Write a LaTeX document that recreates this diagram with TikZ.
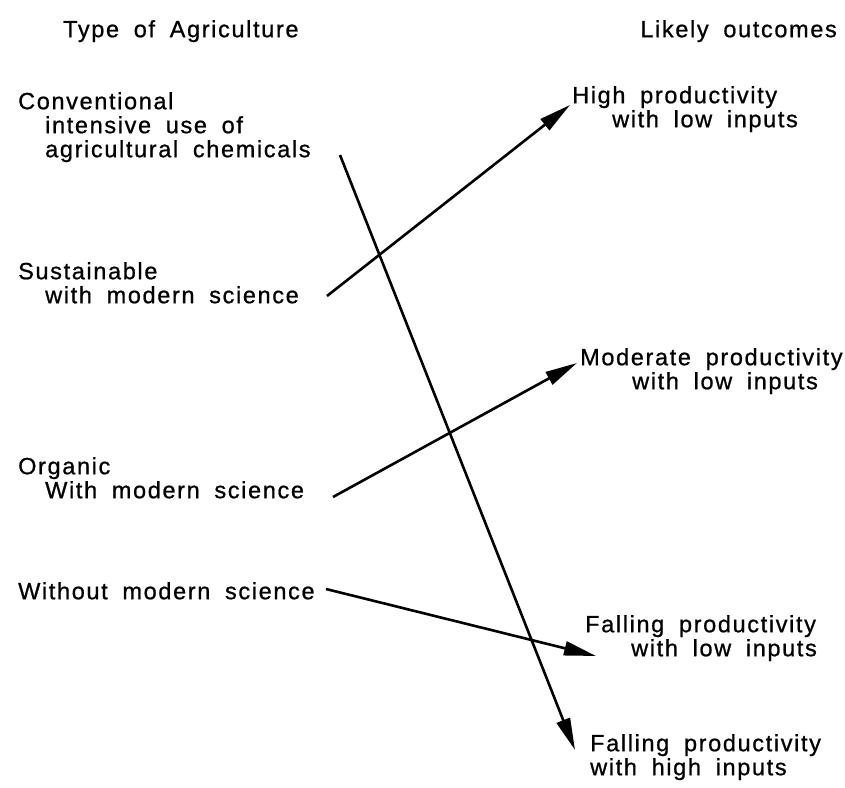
\documentclass[tikz,border=0pt]{standalone}
\usepackage{fontspec}
\setmainfont[LetterSpace=7,WordSpace=1.8,FakeBold=0.8]{Liberation Sans}
\usetikzlibrary{arrows.meta}
\tikzset{font=\fontsize{23.5}{24}\selectfont}
\tikzset{lbl/.style={anchor=north west, inner sep=0pt, align=left}}
\tikzset{arr/.style={line width=2.6pt, -{Triangle[length=32pt,width=14pt]}}}

\begin{document}
\begin{tikzpicture}[x=1pt,y=-1pt]
  \useasboundingbox (0,0) rectangle (845,787);

  % column heads
  \node[lbl] (typehead) at (63,20) {Type of Agriculture};
  \node[lbl,anchor=north east] (outhead) at (837,20) {Likely outcomes};

  % types of agriculture
  \node[lbl] (conv) at (18,92) {Conventional\\\hspace*{27pt}intensive use of\\\hspace*{27pt}agricultural chemicals};
  \node[lbl] (sust) at (18,262) {Sustainable\\\hspace*{27pt}with modern science};
  \node[lbl] (org) at (18,457) {Organic\\\hspace*{27pt}With modern science};
  \node[lbl] (without) at (18,582) {Without modern science};

  % outcomes
  \node[lbl] (highlow) at (572,86) {High productivity\\\hspace*{40pt}with low inputs};
  \node[lbl] (modlow) at (580,348) {Moderate productivity\\\hspace*{52pt}with low inputs};
  \node[lbl] (falllow) at (585,615) {Falling productivity\\\hspace*{46pt}with low inputs};
  \node[lbl] (fallhigh) at (590,734) {Falling productivity\\with high inputs};

  \coordinate (convs) at (340,155);
  \coordinate (convt) at (575,750);
  \coordinate (susts) at (327,296);
  \coordinate (sustt) at (570,105);
  \coordinate (orgs) at (333,497);
  \coordinate (orgt) at (577,363);
  \coordinate (withs) at (326,589);
  \coordinate (witht) at (596,656);

  \draw[arr] (convs) -- (convt);
  \draw[arr] (susts) -- (sustt);
  \draw[arr] (orgs) -- (orgt);
  \draw[arr] (withs) -- (witht);
\end{tikzpicture}
\end{document}
